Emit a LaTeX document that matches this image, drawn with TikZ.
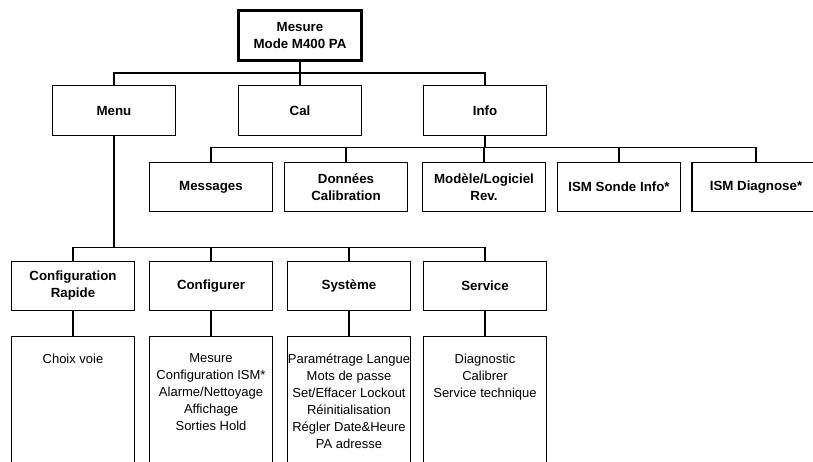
\documentclass[tikz,border=0pt]{standalone}
\usepackage{fontspec}
\setmainfont{Liberation Sans}
\pgfdeclarelayer{edgelayer}
\pgfdeclarelayer{nodelayer}
\pgfsetlayers{edgelayer,nodelayer,main}
\tikzstyle{head}=[rectangle,fill=white,draw=black,line width=3.2pt,minimum width=123pt,minimum height=50pt,align=center,font=\bfseries\fontsize{13.3}{17}\selectfont]
\tikzstyle{menubox}=[rectangle,fill=white,draw=black,line width=1.3pt,minimum width=123pt,minimum height=49.5pt,align=center,font=\bfseries\fontsize{13.3}{17}\selectfont]
\tikzstyle{listbox}=[rectangle,fill=white,draw=black,line width=1.3pt,anchor=north,inner xsep=0pt,inner ysep=17pt,font=\fontsize{13}{17}\selectfont]
\tikzstyle{link}=[line width=1.3pt]
\newcommand{\entries}[1]{\parbox[t][110pt][t]{123pt}{\centering #1}}

\begin{document}
\begin{tikzpicture}[x=1pt,y=-1pt]
        \useasboundingbox (0,0) rectangle (813,462);
        \begin{pgfonlayer}{nodelayer}
            \node [style = head] (mesure) at (300, 35.5) {Mesure\\Mode M400 PA};

            \node [style = menubox] (menu) at (114, 110.5) {Menu};
            \node [style = menubox] (cal) at (300, 110.5) {Cal};
            \node [style = menubox] (info) at (485, 110.5) {Info};

            \node [style = menubox] (messages) at (211, 187) {Messages};
            \node [style = menubox] (donnees) at (346, 187) {Données\\Calibration};
            \node [style = menubox] (modele) at (484, 187) {Modèle/Logiciel\\Rev.};
            \node [style = menubox] (sonde) at (619, 187) {ISM Sonde Info*};
            \node [style = menubox, minimum width=128pt] (diagnose) at (756, 187) {ISM Diagnose*};

            \node [style = menubox] (rapide) at (73, 286) {Configuration\\Rapide};
            \node [style = menubox] (configurer) at (211, 286) {Configurer};
            \node [style = menubox] (systeme) at (349, 286) {Système};
            \node [style = menubox] (service) at (485, 286) {Service};

            \node [style = listbox] (rapidelist) at (73, 336) {\entries{Choix voie}};
            \node [style = listbox] (configurerlist) at (211, 336) {\entries{Mesure\\Configuration ISM*\\Alarme/Nettoyage\\Affichage\\Sorties Hold}};
            \node [style = listbox] (systemelist) at (349, 336) {\entries{Paramétrage Langue\\Mots de passe\\Set/Effacer Lockout\\Réinitialisation\\Régler Date\&Heure\\PA adresse}};
            \node [style = listbox] (servicelist) at (485, 336) {\entries{Diagnostic\\Calibrer\\Service technique}};
        \end{pgfonlayer}

        \begin{pgfonlayer}{edgelayer}
            \draw [link] (mesure.south) -- ++(0, 11) -| (menu.north);
            \draw [link] (mesure.south) -- ++(0, 11) -| (cal.north);
            \draw [link] (mesure.south) -- ++(0, 11) -| (info.north);

            \draw [link] (info.south) -- ++(0, 11.5) -| (messages.north);
            \draw [link] (info.south) -- ++(0, 11.5) -| (donnees.north);
            \draw [link] (info.south) -- ++(0, 11.5) -| (modele.north);
            \draw [link] (info.south) -- ++(0, 11.5) -| (sonde.north);
            \draw [link] (info.south) -- ++(0, 11.5) -| (diagnose.north);

            \draw [link] (menu.south) -- ++(0, 111.5) -| (rapide.north);
            \draw [link] (menu.south) -- ++(0, 111.5) -| (configurer.north);
            \draw [link] (menu.south) -- ++(0, 111.5) -| (systeme.north);
            \draw [link] (menu.south) -- ++(0, 111.5) -| (service.north);

            \draw [link] (rapide) to (rapidelist);
            \draw [link] (configurer) to (configurerlist);
            \draw [link] (systeme) to (systemelist);
            \draw [link] (service) to (servicelist);
        \end{pgfonlayer}
    \end{tikzpicture}
\end{document}
